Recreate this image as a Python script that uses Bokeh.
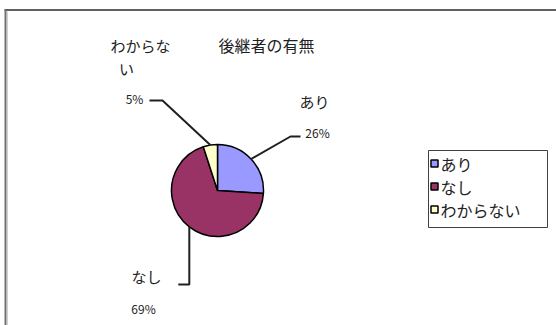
import math
from bokeh.plotting import figure
from bokeh.models import Range1d, ColumnDataSource
from bokeh.embed import file_html
from bokeh.resources import INLINE
from bokeh.core.properties import value

# ---- data ----
categories = ["あり", "なし", "わからない"]
shares = [26, 69, 5]
colors = ["#9999FF", "#993366", "#FFFFCC"]
title_text = "後継者の有無"

FONT = "Noto Sans CJK JP"
W, H = 556, 325

p = figure(width=W, height=H, x_range=Range1d(0, W), y_range=Range1d(0, H),
           output_backend="svg", toolbar_location=None, min_border=0)
p.axis.visible = False
p.grid.visible = False
p.outline_line_color = None
p.background_fill_color = "white"
p.border_fill_color = "white"


def Y(sy):
    return H - sy

# frame (top and left edges)
p.line([4, W], [Y(9.5), Y(9.5)], line_color="#606060", line_width=2)
p.line([5, 5], [Y(9), Y(H)], line_color="#707070", line_width=2)
p.line([7, 7], [Y(11), Y(H)], line_color="#d0d0d0", line_width=1)

# pie geometry (starts at 12 o'clock, clockwise)
cx, cy, r = 217, 190, 46
total = sum(shares)
starts, ends, mids = [], [], []
acc = 0
for s in shares:
    a0 = math.pi / 2 - 2 * math.pi * acc / total
    acc += s
    a1 = math.pi / 2 - 2 * math.pi * acc / total
    starts.append(a1)
    ends.append(a0)
    mids.append((a0 + a1) / 2)

src = ColumnDataSource(dict(x=[cx] * len(shares), y=[Y(cy)] * len(shares),
                            start=starts, end=ends, color=colors, cat=categories))
p.wedge(x="x", y="y", radius=r, start_angle="start", end_angle="end",
        fill_color="color", line_color="black", line_width=1.5, source=src)

# leader lines
def edge(i):
    a = mids[i]
    return cx + r * math.cos(a), cy - r * math.sin(a)

LC = "#202020"
ex, ey = edge(0)
p.line([ex, 290, 300], [Y(ey), Y(136), Y(136)], line_color=LC, line_width=2)
ex, ey = edge(1)
p.line([ex, ex, ex - 11], [Y(ey), Y(284), Y(284)], line_color=LC, line_width=2)
ex, ey = edge(2)
p.line([ex, 162, 149], [Y(ey), Y(100), Y(100)], line_color=LC, line_width=2)

# slice labels
name3 = categories[2]
name_txt = [categories[0], categories[1], name3[:4], name3[4:]]
name_x = [314, 146, 140, 126]
name_y = [Y(101), Y(276), Y(45), Y(68)]
pct_txt = [f"{s}%" for s in shares]
pct_x = [317, 143, 134]
pct_y = [Y(132), Y(308), Y(98)]

p.text(x=name_x, y=name_y, text=name_txt, text_font=value(FONT), text_font_size="15px",
       text_align="center", text_baseline="middle", text_color="#222222")
p.text(x=pct_x, y=pct_y, text=pct_txt, text_font=value(FONT), text_font_size="12px",
       text_align="center", text_baseline="middle", text_color="#222222")
p.text(x=[218], y=[Y(44)], text=[title_text], text_font=value(FONT), text_font_size="16px",
       text_align="left", text_baseline="middle", text_color="#222222")

# legend (drawn by hand to match box size)
lx0, lx1, ly0, ly1 = 428, 547, 150, 227
p.quad(left=[lx0], right=[lx1], top=[Y(ly0)], bottom=[Y(ly1)],
       fill_color="white", line_color="#404040", line_width=1)
row_y = [Y(163), Y(186), Y(209)]
p.rect(x=[434] * len(categories), y=row_y, width=7, height=7,
       fill_color=colors, line_color="black", line_width=1.5)
p.text(x=[440] * len(categories), y=row_y, text=categories, text_font=value(FONT),
       text_font_size="16px", text_align="left", text_baseline="middle",
       text_color="#222222")

open("out.html", "w").write(file_html(p, INLINE))
